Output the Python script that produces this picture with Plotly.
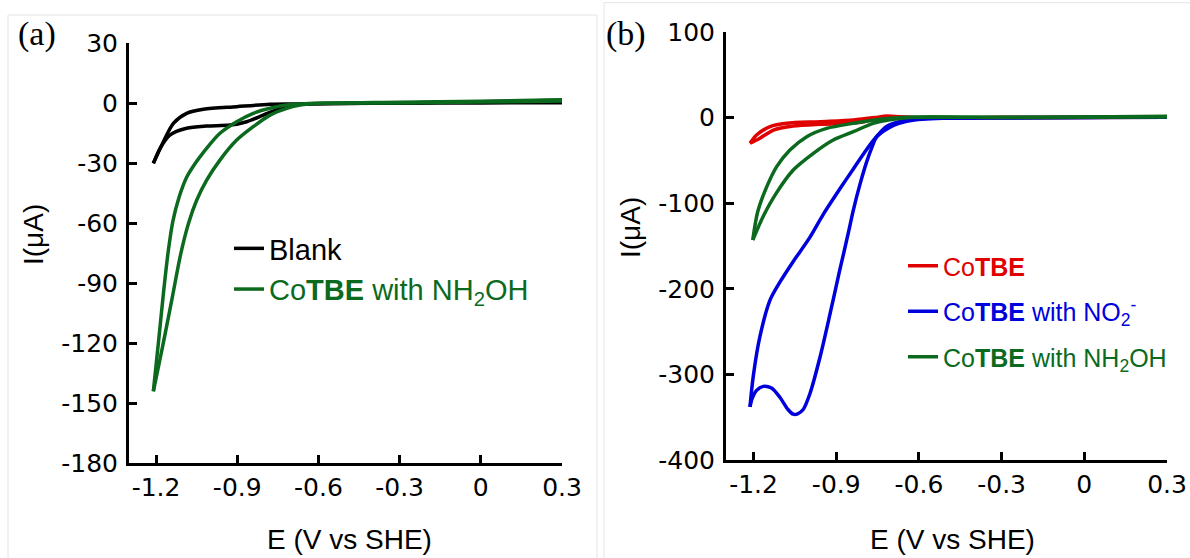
import plotly.graph_objects as go

W, H = 1190, 558

# ---------------- data: panel (a) ----------------
blank_fwd_E = [0.30, 0.00, -0.30, -0.60, -0.693, -0.742, -0.804, -0.865, -0.927, -1.013, -1.087, -1.149, -1.185, -1.21]
blank_fwd_I = [0.3, 0.2, 0.0, -0.2, -0.85, -2.5, -5.9, -9.2, -10.9, -11.4, -12.5, -15.9, -22.5, -30]
blank_rev_E = [-1.21, -1.173, -1.136, -1.087, -1.025, -0.902, -0.779, -0.694, -0.60, -0.30, 0.00, 0.30]
blank_rev_I = [-30, -19.2, -10, -5, -3, -1.7, -0.5, -0.35, -0.2, 0.2, 0.8, 1.5]

nh2oh_a_fwd_E = [0.30, 0.00, -0.30, -0.594, -0.668, -0.717, -0.779, -0.841, -0.902, -0.964, -1.013, -1.05, -1.08, -1.11, -1.14, -1.175, -1.21]
nh2oh_a_fwd_I = [1.2, 0.6, 0.2, 0.0, -0.85, -2.5, -5.9, -11.7, -18.4, -28.4, -38.4, -48.5, -60, -76, -97, -121, -144]
nh2oh_a_rev_E = [-1.21, -1.19, -1.172, -1.155, -1.138, -1.115, -1.087, -1.055, -1.025, -0.964, -0.902, -0.841, -0.779, -0.717, -0.65, -0.30, 0.00, 0.30]
nh2oh_a_rev_I = [-144, -118, -94, -74, -59, -47, -37, -30, -24.5, -15, -9.2, -5, -2.5, -0.85, -0.2, 0.5, 1.0, 1.8]

# ---------------- data: panel (b) ----------------
cotbe_fwd_E = [0.30, 0.00, -0.30, -0.60, -0.681, -0.741, -0.802, -0.862, -0.959, -1.056, -1.128, -1.177, -1.213]
cotbe_fwd_I = [0.5, 0.2, 0.0, -0.3, 0.4, -0.8, -4.8, -6.7, -7.8, -9.8, -14.5, -24.2, -30]
cotbe_rev_E = [-1.213, -1.189, -1.14, -1.08, -0.959, -0.838, -0.76, -0.717, -0.669, -0.596, -0.30, 0.00, 0.30]
cotbe_rev_I = [-30, -20.3, -10.6, -6.7, -4.8, -2.8, 0.0, 1.9, 1.0, -0.3, 0.0, 0.5, 1.0]

no2_fwd_E = [0.30, 0.00, -0.30, -0.55, -0.617, -0.673, -0.71, -0.753, -0.771, -0.79, -0.814, -0.838, -0.855, -0.872, -0.89,
             -0.923, -0.959, -0.995, -1.02, -1.04, -1.056, -1.075, -1.104, -1.135, -1.165, -1.19, -1.205, -1.213]
no2_fwd_I = [0.5, 0.0, -0.5, -1.0, -2.8, -6.7, -12, -22.3, -35, -52, -78, -108, -133, -157, -182,
             -230, -280, -322, -341, -346, -346.5, -341, -327, -316, -314, -319, -328, -338]
no2_rev_E = [-1.213, -1.201, -1.177, -1.14, -1.104, -1.056, -1.0, -0.947, -0.88, -0.838, -0.80, -0.766, -0.72, -0.693, -0.62, -0.50, 0.00, 0.30]
no2_rev_I = [-338, -302, -256, -213, -192, -168, -142, -113, -80, -60, -42, -27, -11, -6.7, -2, -0.5, 0.2, 1.0]

nh2oh_b_fwd_E = [0.30, 0.00, -0.30, -0.62, -0.693, -0.766, -0.838, -0.911, -0.983, -1.056, -1.118, -1.163, -1.183, -1.203]
nh2oh_b_fwd_I = [0.8, 0.3, 0.0, 0.3, -2, -6.7, -16.5, -26.2, -41.8, -61.3, -88.5, -114, -128, -143]
nh2oh_b_rev_E = [-1.203, -1.185, -1.152, -1.116, -1.068, -1.007, -0.935, -0.838, -0.741, -0.644, -0.30, 0.00, 0.30]
nh2oh_b_rev_I = [-143, -110, -80.7, -57.3, -37.9, -22.3, -12.6, -6.7, -2, 0.3, 0.3, 0.8, 1.5]

x_ticks = [-1.2, -0.9, -0.6, -0.3, 0, 0.3]
x_ticklabels = ["-1.2", "-0.9", "-0.6", "-0.3", "0", "0.3"]
ya_ticks = [30, 0, -30, -60, -90, -120, -150, -180]
yb_ticks = [100, 0, -100, -200, -300, -400]

BLACK = "#000000"
GREEN = "#0b6a1e"
RED = "#e00000"
BLUE = "#0000dd"
LW = 3.5

fig = go.Figure()

def add_cv(E1, I1, E2, I2, color, name, xa, ya, leg, group, rank):
    for k, (E, I) in enumerate([(E1, I1), (E2, I2)]):
        fig.add_trace(go.Scatter(
            x=E, y=I, mode="lines", xaxis=xa, yaxis=ya,
            line=dict(color=color, width=LW, shape="spline", smoothing=0.8),
            name=name, legend=leg, legendgroup=group, showlegend=(k == 0), legendrank=rank,
        ))

def nm(color, txt):
    return f'<span style="color:{color}">{txt}</span>'

add_cv(blank_fwd_E, blank_fwd_I, blank_rev_E, blank_rev_I, BLACK, nm(BLACK, "Blank"), "x", "y", "legend", "a1", 1)
add_cv(nh2oh_a_fwd_E, nh2oh_a_fwd_I, nh2oh_a_rev_E, nh2oh_a_rev_I, GREEN,
       nm(GREEN, "Co<b>TBE</b> with NH<sub>2</sub>OH"), "x", "y", "legend", "a2", 2)

add_cv(cotbe_fwd_E, cotbe_fwd_I, cotbe_rev_E, cotbe_rev_I, RED, nm(RED, "Co<b>TBE</b>"), "x2", "y2", "legend2", "b1", 1)
add_cv(no2_fwd_E, no2_fwd_I, no2_rev_E, no2_rev_I, BLUE,
       nm(BLUE, "Co<b>TBE</b> with NO<sub>2</sub><sup>-</sup>"), "x2", "y2", "legend2", "b2", 2)
add_cv(nh2oh_b_fwd_E, nh2oh_b_fwd_I, nh2oh_b_rev_E, nh2oh_b_rev_I, GREEN,
       nm(GREEN, "Co<b>TBE</b> with NH<sub>2</sub>OH"), "x2", "y2", "legend2", "b3", 3)

TICKFONT = dict(family="DejaVu Sans", size=25, color="black")

def xaxis(domain, anchor):
    return dict(domain=domain, anchor=anchor, range=[-1.3, 0.3], tickvals=x_ticks, ticktext=x_ticklabels,
                showline=True, linewidth=3, linecolor="black", ticks="inside", ticklen=8, tickwidth=3,
                tickcolor="black", showgrid=False, zeroline=False, tickfont=TICKFONT, ticklabelstandoff=0,
                automargin=False)

def yaxis(domain, anchor, rng, tv):
    return dict(domain=domain, anchor=anchor, range=rng, tickvals=tv, ticktext=[str(v) for v in tv],
                showline=True, linewidth=3, linecolor="black", ticks="inside", ticklen=8, tickwidth=3,
                tickcolor="black", showgrid=False, zeroline=False, tickfont=TICKFONT, ticklabelstandoff=3,
                automargin=False)

def px_x(p):
    return p / W

def px_y(p):
    return 1 - p / H

fig.update_layout(
    width=W, height=H, margin=dict(l=0, r=0, t=0, b=0, pad=0, autoexpand=False),
    paper_bgcolor="white", plot_bgcolor="white",
    font=dict(family="Liberation Sans, Arial", color="black"),
    xaxis=xaxis([px_x(129), px_x(562)], "y"),
    yaxis=yaxis([px_y(463.3), px_y(43.3)], "x", [-180, 30], ya_ticks),
    xaxis2=xaxis([px_x(726), px_x(1167)], "y2"),
    yaxis2=yaxis([px_y(460), px_y(32)], "x2", [-400, 100], yb_ticks),
    legend=dict(x=px_x(229), y=px_y(223), xanchor="left", yanchor="top",
                font=dict(family="Liberation Sans, Arial", size=29), bgcolor="rgba(0,0,0,0)",
                tracegroupgap=0, itemclick=False),
    legend2=dict(x=px_x(903), y=px_y(243), xanchor="left", yanchor="top",
                 font=dict(family="Liberation Sans, Arial", size=25), bgcolor="rgba(0,0,0,0)",
                 tracegroupgap=10, itemclick=False),
    showlegend=True,
)

ann = [
    dict(text="(a)", x=px_x(37), y=px_y(34), font=dict(family="Liberation Serif", size=34)),
    dict(text="(b)", x=px_x(626), y=px_y(34), font=dict(family="Liberation Serif", size=34)),
    dict(text="E (V vs SHE)", x=px_x(349), y=px_y(539), font=dict(family="Liberation Sans", size=28)),
    dict(text="E (V vs SHE)", x=px_x(952), y=px_y(539), font=dict(family="Liberation Sans", size=28)),
    dict(text="I(μA)", x=px_x(34), y=px_y(235), textangle=-90, font=dict(family="Liberation Sans", size=28)),
    dict(text="I(μA)", x=px_x(630), y=px_y(228), textangle=-90, font=dict(family="Liberation Sans", size=28)),
]
for a in ann:
    fig.add_annotation(xref="paper", yref="paper", showarrow=False, xanchor="center", yanchor="middle", **a)

frame = dict(type="rect", xref="paper", yref="paper", line=dict(color="#e4e4e4", width=1), layer="below")
fig.add_shape(x0=px_x(8), x1=px_x(597), y0=-0.01, y1=px_y(15), **frame)
fig.add_shape(x0=px_x(604), x1=1.01, y0=-0.01, y1=px_y(2.7), **frame)

fig.write_html("out.html", config={"displayModeBar": False},
               post_script="document.body.style.margin='0px';")
